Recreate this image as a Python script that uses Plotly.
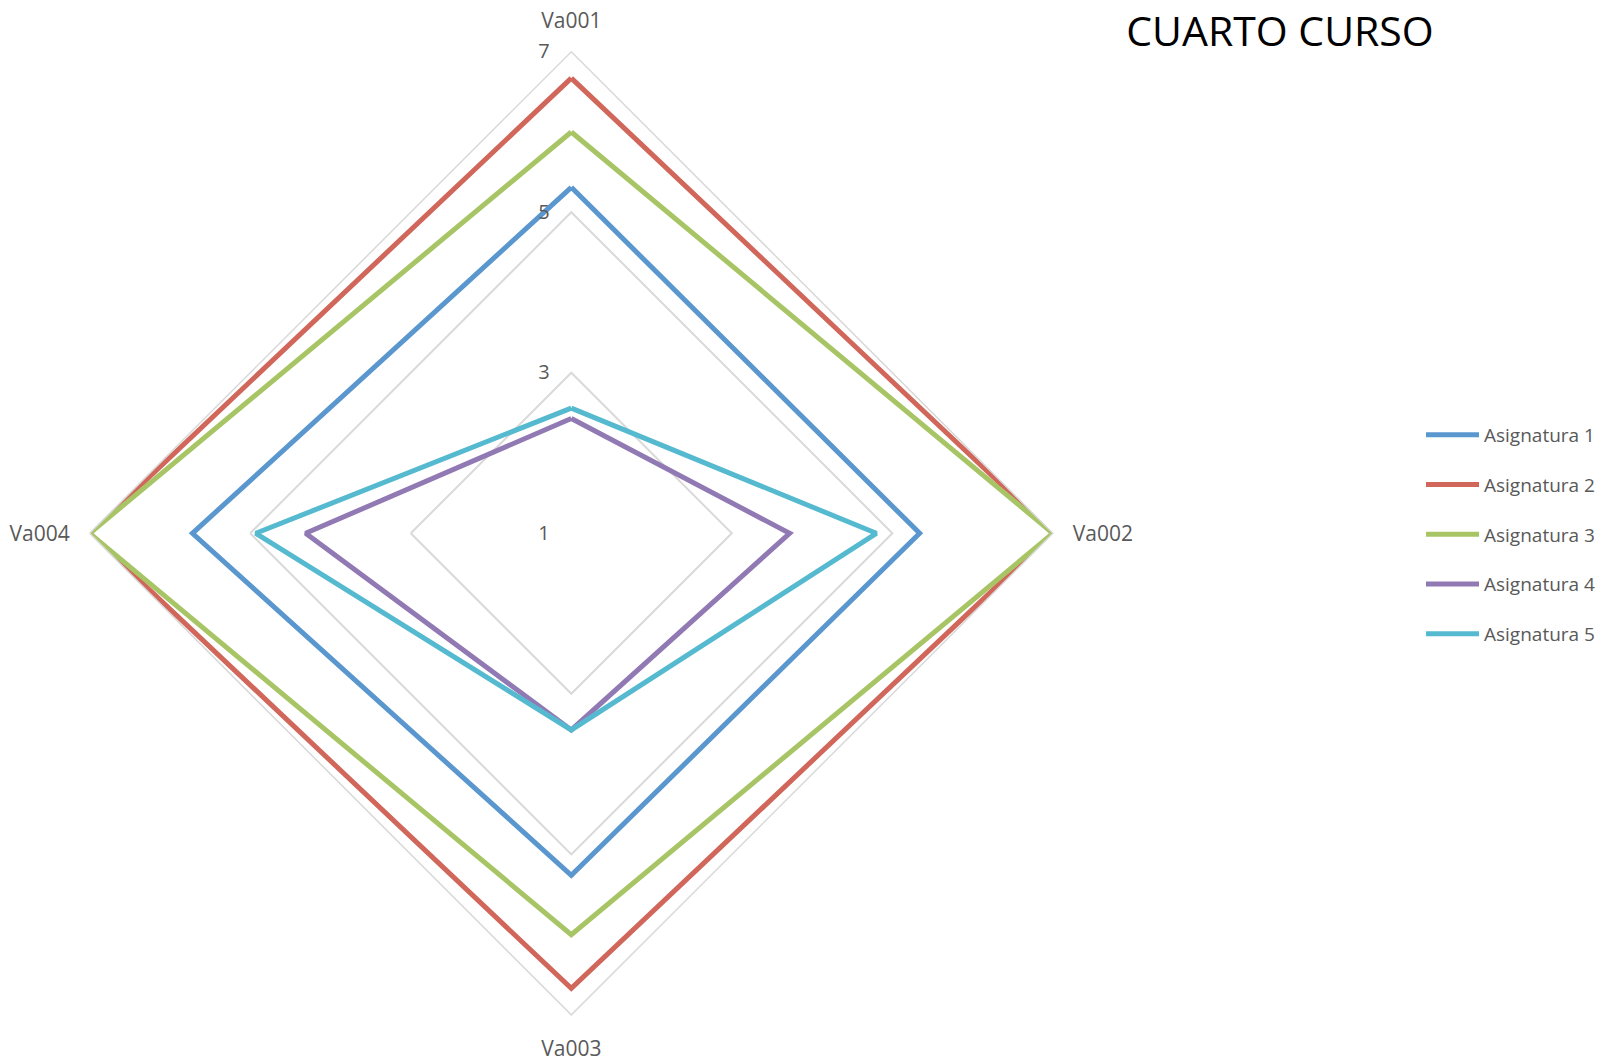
import plotly.graph_objects as go

categories = ["Va001", "Va002", "Va003", "Va004"]
series_names = ["Asignatura 1", "Asignatura 2", "Asignatura 3", "Asignatura 4", "Asignatura 5"]
asig1 = [5.31, 5.34, 5.26, 5.72]
asig2 = [6.67, 7.0, 6.67, 7.0]
asig3 = [6.0, 7.0, 6.0, 7.0]
asig4 = [2.43, 3.72, 3.45, 4.31]
asig5 = [2.56, 4.80, 3.45, 4.93]
series_values = [asig1, asig2, asig3, asig4, asig5]
colors = ["#5B97CF", "#D1665A", "#A8C566", "#9179B4", "#55BAD0"]
radial_ticks = [1, 3, 5, 7]
title_text = "CUARTO CURSO"

FONT = "Open Sans, Lato, Liberation Sans, sans-serif"
GRID = "#D9D9D9"
OFF = 8  # default page body margin shifts the figure

fig = go.Figure()
for name, vals, col in zip(series_names, series_values, colors):
    fig.add_trace(go.Scatterpolar(
        r=vals + [vals[0]],
        theta=categories + [categories[0]],
        mode="lines",
        name=name,
        legendgroup=name,
        line=dict(color=col, width=5),
        hoverinfo="skip",
    ))

W, H = 1610, 1061
cx, cy, R = 571.3 - OFF, 533.3 - OFF, 481.6
fig.update_layout(
    width=W, height=H,
    margin=dict(l=0, r=0, t=0, b=0),
    paper_bgcolor="white",
    plot_bgcolor="white",
    font=dict(family=FONT, color="#595959", size=20),
    title=dict(text=title_text, x=(1280 - OFF) / W, xanchor="center", y=1 - (32 - OFF) / H, yanchor="middle",
               xref="paper", yref="container",
               font=dict(family=FONT, size=41, color="#000000")),
    polar=dict(
        domain=dict(x=[(cx - R) / W, (cx + R) / W], y=[(H - cy - R) / H, (H - cy + R) / H]),
        bgcolor="white",
        gridshape="linear",
        radialaxis=dict(
            range=[1, 7], tickvals=radial_ticks, ticktext=[str(t) for t in radial_ticks],
            angle=90, side="counterclockwise", showline=False,
            ticks="outside", ticklen=14, tickcolor="rgba(0,0,0,0)", tickangle=90,
            gridcolor=GRID, gridwidth=1.5,
            tickfont=dict(family=FONT, size=20, color="#595959"),
        ),
        angularaxis=dict(
            rotation=90, direction="clockwise", showgrid=False,
            showline=True, linecolor=GRID, linewidth=1.5,
            ticks="outside", ticklen=15, tickcolor="rgba(0,0,0,0)",
            tickfont=dict(family=FONT, size=21, color="#595959"),
        ),
    ),
    showlegend=True,
    legend=dict(
        x=(1427 - OFF - 6) / W, xanchor="left", y=1 - (416 - OFF) / H, yanchor="top",
        tracegroupgap=22, itemwidth=53,
        font=dict(family=FONT, size=19, color="#595959"),
        bgcolor="rgba(0,0,0,0)",
    ),
)

fig.write_html("out.html")
